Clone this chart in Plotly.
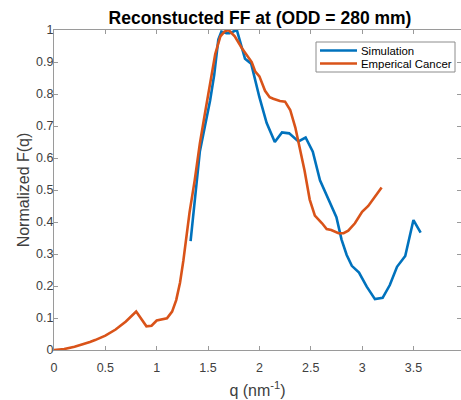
import plotly.graph_objects as go

# Simulation (blue)
sim_q = [1.33, 1.38, 1.42, 1.47, 1.52, 1.56, 1.60, 1.63, 1.68, 1.71, 1.78, 1.86, 1.92,
         2.00, 2.07, 2.15, 2.22, 2.29, 2.38, 2.45, 2.52, 2.59, 2.67, 2.75, 2.80, 2.85,
         2.90, 2.97, 3.045, 3.125, 3.20, 3.27, 3.34, 3.42, 3.50, 3.57]
sim_f = [0.34, 0.50, 0.62, 0.70, 0.78, 0.86, 0.97, 0.995, 0.99, 0.99, 1.0, 0.91, 0.895,
         0.79, 0.71, 0.65, 0.68, 0.677, 0.652, 0.664, 0.62, 0.53, 0.47, 0.415, 0.345, 0.297,
         0.263, 0.242, 0.198, 0.159, 0.163, 0.203, 0.26, 0.294, 0.406, 0.367]

# Emperical Cancer (orange)
emp_q = [0.0, 0.1, 0.2, 0.3, 0.35, 0.4, 0.5, 0.6, 0.7, 0.8, 0.9, 0.95, 1.0, 1.1, 1.15,
         1.19, 1.227, 1.26, 1.28, 1.32, 1.37, 1.42, 1.47, 1.52, 1.57, 1.62, 1.66, 1.70, 1.76,
         1.83, 1.88, 1.925, 1.96, 2.0, 2.055, 2.1, 2.135, 2.2, 2.25, 2.30, 2.35, 2.40,
         2.44, 2.49, 2.54, 2.61, 2.655, 2.70, 2.77, 2.82, 2.865, 2.93, 3.0, 3.06, 3.126, 3.19]
emp_f = [0.0, 0.003, 0.010, 0.019, 0.025, 0.031, 0.045, 0.064, 0.089, 0.12, 0.074, 0.076,
         0.092, 0.099, 0.12, 0.156, 0.21, 0.28, 0.33, 0.43, 0.53, 0.645, 0.74, 0.835, 0.925, 0.98,
         0.995, 1.0, 0.98, 0.943, 0.92, 0.90, 0.87, 0.855, 0.81, 0.79, 0.785, 0.778, 0.776,
         0.75, 0.695, 0.625, 0.56, 0.47, 0.42, 0.396, 0.378, 0.375, 0.365, 0.365, 0.373,
         0.396, 0.432, 0.45, 0.479, 0.508]

x_ticks = [0, 0.5, 1, 1.5, 2, 2.5, 3, 3.5]
x_ticklabels = ["0", "0.5", "1", "1.5", "2", "2.5", "3", "3.5"]
y_ticks = [0, 0.1, 0.2, 0.3, 0.4, 0.5, 0.6, 0.7, 0.8, 0.9, 1]
y_ticklabels = ["0", "0.1", "0.2", "0.3", "0.4", "0.5", "0.6", "0.7", "0.8", "0.9", "1"]

series_names = ["Simulation", "Emperical Cancer"]
series_colors = ["#0072BD", "#D95319"]

FONT = "Liberation Sans, Arial, sans-serif"
AXC = "#9a9a9a"
TXT = "#404040"

W, H = 461, 400
ML, MR, MT, MB = 54, 0, 30, 50
PW, PH = W - ML - MR, H - MT - MB


def px2paper_x(px):
    return (px - ML) / PW


def px2paper_y(py):
    return (H - MB - py) / PH


fig = go.Figure()
fig.add_trace(go.Scatter(x=sim_q, y=sim_f, mode="lines", name=series_names[0],
                         line=dict(color=series_colors[0], width=2.6), showlegend=False))
fig.add_trace(go.Scatter(x=emp_q, y=emp_f, mode="lines", name=series_names[1],
                         line=dict(color=series_colors[1], width=2.6), showlegend=False))

# Legend box (MATLAB style, compact)
shapes = [dict(type="rect", xref="paper", yref="paper",
               x0=px2paper_x(316), x1=px2paper_x(455),
               y0=px2paper_y(72), y1=px2paper_y(42),
               line=dict(color="#8c8c8c", width=1), fillcolor="white", layer="above")]
annotations = []
for i, (nm, col) in enumerate(zip(series_names, series_colors)):
    yy = 50.5 + i * 13
    shapes.append(dict(type="line", xref="paper", yref="paper",
                       x0=px2paper_x(320), x1=px2paper_x(357),
                       y0=px2paper_y(yy), y1=px2paper_y(yy),
                       line=dict(color=col, width=2.6), layer="above"))
    annotations.append(dict(xref="paper", yref="paper", x=px2paper_x(358.5), y=px2paper_y(yy),
                            xanchor="left", yanchor="middle", text=nm, showarrow=False,
                            font=dict(family=FONT, size=11.4, color="black")))

fig.update_layout(
    width=W, height=H,
    margin=dict(l=ML, r=MR, t=MT, b=MB),
    paper_bgcolor="white", plot_bgcolor="white",
    font=dict(family=FONT, color=TXT, size=12.5),
    title=dict(text="<b>Reconstucted FF at (ODD = 280 mm)</b>", x=260 / W, xanchor="center",
               y=1 - 18 / H, yanchor="middle",
               font=dict(family=FONT, size=17.5, color="black")),
    showlegend=False,
    shapes=shapes,
    annotations=annotations,
    xaxis=dict(range=[0, 3.963], tickvals=x_ticks, ticktext=x_ticklabels,
               showgrid=False, zeroline=False, showline=True, linecolor=AXC, linewidth=1,
               mirror="ticks", ticks="inside", ticklen=4, tickcolor=AXC,
               tickfont=dict(size=12.5, color=TXT), ticklabelstandoff=6,
               title=dict(text="q (nm<sup>-1</sup>)", font=dict(size=16, color=TXT), standoff=10)),
    yaxis=dict(range=[0, 1], tickvals=y_ticks, ticktext=y_ticklabels,
               showgrid=False, zeroline=False, showline=True, linecolor=AXC, linewidth=1,
               mirror="ticks", ticks="inside", ticklen=4, tickcolor=AXC,
               tickfont=dict(size=12.5, color=TXT), ticklabelstandoff=-3,
               title=dict(text="Normalized F(q)", font=dict(size=16, color=TXT), standoff=2)),
)

fig.write_html("out.html")
